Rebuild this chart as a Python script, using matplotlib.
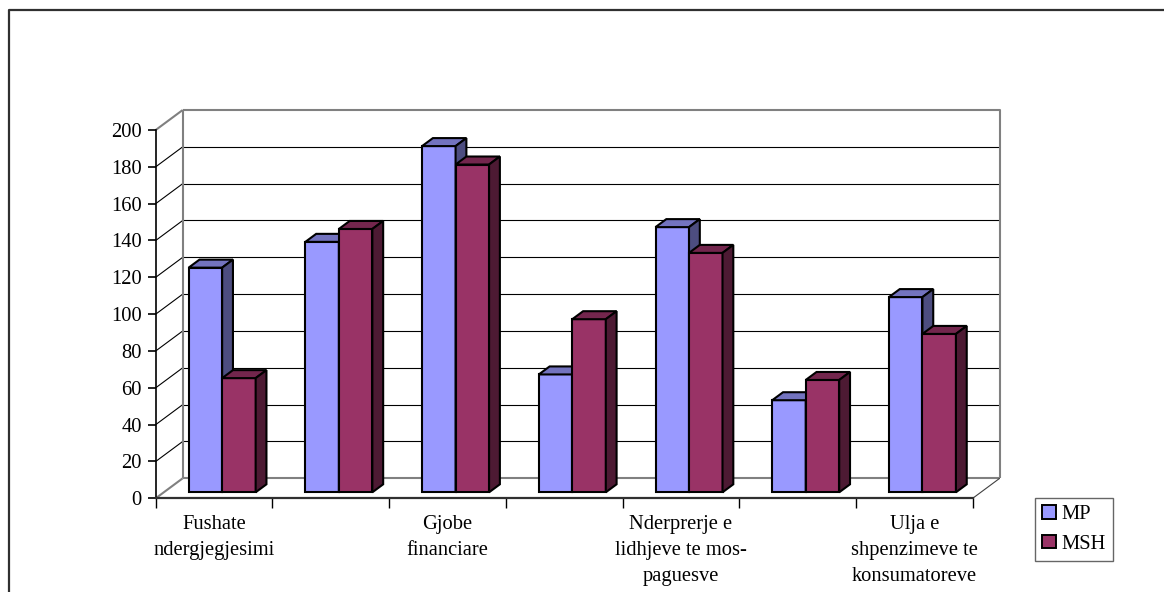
import matplotlib.pyplot as plt
from matplotlib.patches import Polygon, Patch
from matplotlib.lines import Line2D

# Category labels (only every second category carries a label)
categories = [
    "Fushate\nndergjegjesimi",
    "",
    "Gjobe\nfinanciare",
    "",
    "Nderprerje e\nlidhjeve te mos-\npaguesve",
    "",
    "Ulja e\nshpenzimeve te\nkonsumatoreve",
]
mp_values = [122, 136, 188, 64, 144, 50, 106]
msh_values = [62, 143, 178, 94, 130, 61, 86]
series_names = ["MP", "MSH"]
y_ticks = list(range(0, 201, 20))

# colours: front, top, side
MP_COLORS = ("#9999FF", "#7373BF", "#4D4D80")
MSH_COLORS = ("#993366", "#73264D", "#4D1A33")
WALL = "#808080"

W, H = 1164, 592
fig = plt.figure(figsize=(W / 100, H / 100), dpi=100)
plt.rcParams["font.family"] = ["Liberation Serif", "DejaVu Serif"]

# front plane of the 3d box, in pixels
x0, x1 = 155.7, 972.7
y0, y1 = 498.3, 130.0
ax = fig.add_axes([x0 / W, (H - y0) / H, (x1 - x0) / W, (y0 - y1) / H])
n = len(categories)
ymax = 200
ax.set_xlim(0, n)
ax.set_ylim(0, ymax)

# depth of the box in data units
px_x = (x1 - x0) / n
px_y = (y0 - y1) / ymax
DX = 27 / px_x
DY = 20 / px_y


def line(xs, ys, color, lw, z=1):
    ax.add_line(Line2D(xs, ys, color=color, lw=lw, zorder=z, clip_on=False,
                       solid_capstyle="butt"))


# gridlines on the back wall and diagonals on the side wall
for t in y_ticks[1:-1]:
    line([DX, n + DX], [t + DY, t + DY], "black", 0.8)
    line([0, DX], [t, t + DY], "black", 0.8)

# wall outlines
line([DX, n + DX, n + DX], [ymax + DY, ymax + DY, DY], WALL, 1.5)
line([DX, DX], [DY, ymax + DY], WALL, 1.5)
line([0, DX], [ymax, ymax + DY], WALL, 1.5)
line([DX, n + DX], [DY, DY], WALL, 1.5)
line([0, DX], [0, DY], WALL, 1.5)
line([n, n + DX], [0, DY], "#404040", 0.8)

# 3d bars
bar_w = 0.287
f0 = 0.3     # depth position of the bar front
fd = 0.4     # bar depth as a fraction of the box depth
bx, by = fd * DX, fd * DY


def bar3d(left, value, colors):
    xl = left + f0 * DX
    xr = xl + bar_w
    yb = f0 * DY
    yt = yb + value
    kw = dict(edgecolor="black", lw=1.5, joinstyle="miter", clip_on=False, zorder=3)
    ax.add_patch(Polygon([(xl, yb), (xr, yb), (xr, yt), (xl, yt)],
                         facecolor=colors[0], **kw))
    ax.add_patch(Polygon([(xl, yt), (xr, yt), (xr + bx, yt + by), (xl + bx, yt + by)],
                         facecolor=colors[1], **kw))
    ax.add_patch(Polygon([(xr, yb), (xr + bx, yb + by), (xr + bx, yt + by), (xr, yt)],
                         facecolor=colors[2], **kw))


for i in range(n):
    c = i + 0.5
    bar3d(c - bar_w, mp_values[i], MP_COLORS)
    bar3d(c, msh_values[i], MSH_COLORS)

# front axes
for s in ("top", "right"):
    ax.spines[s].set_visible(False)
ax.spines["left"].set_color("black")
ax.spines["left"].set_linewidth(1.2)
ax.spines["bottom"].set_color("#303030")
ax.spines["bottom"].set_linewidth(1.6)
ax.set_yticks(y_ticks)
ax.set_yticklabels([str(t) for t in y_ticks], fontsize=14.8)
ax.tick_params(axis="y", direction="out", length=6, width=1.2, pad=4)
ax.set_xticks(range(n + 1))
ax.set_xticklabels([])
ax.tick_params(axis="x", which="major", direction="out", length=7, width=1.0)
ax.set_xticks([i + 0.5 for i in range(n)], minor=True)
ax.set_xticklabels(categories, minor=True, fontsize=14.8, linespacing=1.5)
ax.tick_params(axis="x", which="minor", length=0, pad=12)
ax.set_facecolor("none")

# legend
handles = [Patch(facecolor=MP_COLORS[0], edgecolor="black", lw=1.4),
           Patch(facecolor=MSH_COLORS[0], edgecolor="black", lw=1.4)]
leg = fig.legend(handles, series_names, loc="upper left",
                 bbox_to_anchor=(1035 / W, 1 - 498 / H), fontsize=14.8,
                 frameon=True, fancybox=False, handlelength=0.65, handleheight=0.65,
                 handletextpad=0.3, borderpad=0.35, labelspacing=0.5,
                 borderaxespad=0)
leg.get_frame().set_edgecolor("#404040")
leg.get_frame().set_linewidth(1.0)

# outer chart frame (left and top edges)
fig.add_artist(Line2D([8.5 / W, 8.5 / W, 1], [0, 1 - 10 / H, 1 - 10 / H],
                      transform=fig.transFigure, color="#303030", lw=1.6))

fig.savefig("out.png", dpi=100)
